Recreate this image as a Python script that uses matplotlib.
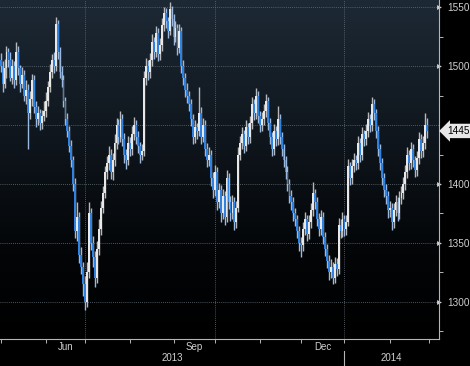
import numpy as np
import pandas as pd
import matplotlib
matplotlib.use('Agg')
import matplotlib.pyplot as plt
from matplotlib.colors import LinearSegmentedColormap
from matplotlib.transforms import blended_transform_factory

# daily candles, May 2013 - Feb 2014 (business days)
dates = pd.bdate_range('2013-05-01', '2014-02-28')

opens = [1505, 1500, 1485, 1498, 1512, 1505, 1490, 1500, 1488, 1512, 1498, 1485, 1492, 1475, 1480, 1460, 1472, 1488, 1465, 1455, 1460, 1452, 1458,
         1462, 1470, 1482, 1495, 1505, 1500, 1536, 1512, 1495, 1488, 1470, 1455, 1445, 1432, 1420, 1400, 1360, 1372, 1340, 1330,
         1315, 1300, 1325, 1375, 1350, 1338, 1320, 1345, 1362, 1380, 1392, 1410, 1418, 1425, 1410, 1420, 1435, 1450, 1440, 1455, 1438, 1425, 1420,
         1435, 1430, 1442, 1450, 1440, 1432, 1425, 1428, 1490, 1500, 1495, 1505, 1520, 1512, 1528, 1510, 1518, 1535, 1545, 1538, 1530, 1548,
         1540, 1525, 1532, 1515, 1530, 1500, 1490, 1480, 1475, 1468, 1455, 1440, 1448, 1445, 1460, 1440, 1450, 1430, 1420, 1425, 1405,
         1395, 1410, 1385, 1395, 1375, 1390, 1372, 1405, 1385, 1375, 1385, 1368, 1380, 1425, 1435, 1442, 1432, 1448, 1440, 1452, 1468, 1460, 1475,
         1458, 1450, 1455, 1462, 1470, 1452, 1440, 1430, 1445, 1438, 1455, 1440, 1430, 1420, 1410, 1400, 1390, 1385, 1375, 1370, 1360,
         1350, 1348, 1362, 1370, 1358, 1368, 1378, 1392, 1385, 1370, 1362, 1372, 1355, 1345, 1335, 1325, 1330, 1320, 1332, 1328, 1365, 1360,
         1370, 1362, 1368, 1415, 1405, 1415, 1420, 1418, 1435, 1425, 1442, 1438, 1445, 1455, 1450, 1468, 1460, 1445, 1430, 1418, 1405, 1395, 1390,
         1378, 1380, 1368, 1378, 1385, 1375, 1388, 1392, 1400, 1410, 1425, 1418, 1430, 1420, 1412, 1422, 1438, 1428, 1435, 1450]

closes = [1500, 1485, 1498, 1512, 1505, 1490, 1500, 1488, 1512, 1498, 1485, 1492, 1475, 1480, 1460, 1472, 1488, 1465, 1455, 1460, 1452, 1458, 1462,
          1470, 1482, 1495, 1505, 1500, 1536, 1512, 1495, 1488, 1470, 1455, 1445, 1432, 1420, 1400, 1360, 1372, 1340, 1330, 1315,
          1300, 1325, 1375, 1350, 1338, 1320, 1345, 1362, 1380, 1392, 1410, 1418, 1425, 1410, 1420, 1435, 1450, 1440, 1455, 1438, 1425, 1420, 1435,
          1430, 1442, 1450, 1440, 1432, 1425, 1428, 1490, 1500, 1495, 1505, 1520, 1512, 1528, 1510, 1518, 1535, 1545, 1538, 1530, 1548, 1540,
          1525, 1532, 1515, 1530, 1500, 1490, 1480, 1475, 1468, 1455, 1440, 1448, 1445, 1460, 1440, 1450, 1430, 1420, 1425, 1405, 1395,
          1410, 1385, 1395, 1375, 1390, 1372, 1405, 1385, 1375, 1385, 1368, 1380, 1425, 1435, 1442, 1432, 1448, 1440, 1452, 1468, 1460, 1475, 1458,
          1450, 1455, 1462, 1470, 1452, 1440, 1430, 1445, 1438, 1455, 1440, 1430, 1420, 1410, 1400, 1390, 1385, 1375, 1370, 1360, 1350,
          1348, 1362, 1370, 1358, 1368, 1378, 1392, 1385, 1370, 1362, 1372, 1355, 1345, 1335, 1325, 1330, 1320, 1332, 1328, 1365, 1360, 1370,
          1362, 1368, 1415, 1405, 1415, 1420, 1418, 1435, 1425, 1442, 1438, 1445, 1455, 1450, 1468, 1460, 1445, 1430, 1418, 1405, 1395, 1390, 1378,
          1380, 1368, 1378, 1385, 1375, 1388, 1392, 1400, 1410, 1425, 1418, 1430, 1420, 1412, 1422, 1438, 1428, 1435, 1450, 1445]

highs = [1511, 1504, 1506, 1517, 1515, 1512, 1506, 1504, 1520, 1517, 1501, 1499, 1497, 1488, 1485, 1479, 1493, 1492, 1470, 1466, 1464, 1463, 1470,
         1478, 1487, 1502, 1510, 1512, 1542, 1539, 1516, 1500, 1492, 1474, 1460, 1449, 1437, 1424, 1405, 1385, 1376, 1347, 1334,
         1322, 1334, 1385, 1380, 1356, 1343, 1352, 1370, 1386, 1398, 1415, 1424, 1432, 1430, 1426, 1442, 1456, 1455, 1462, 1459, 1443, 1430, 1441,
         1440, 1449, 1457, 1454, 1445, 1436, 1434, 1496, 1507, 1505, 1511, 1527, 1525, 1534, 1532, 1524, 1541, 1550, 1549, 1542, 1554, 1551,
         1544, 1538, 1536, 1536, 1533, 1505, 1494, 1486, 1479, 1472, 1459, 1454, 1452, 1482, 1465, 1456, 1454, 1435, 1431, 1429, 1410,
         1416, 1414, 1401, 1399, 1396, 1394, 1412, 1409, 1390, 1391, 1389, 1386, 1431, 1441, 1448, 1446, 1454, 1452, 1458, 1474, 1472, 1481, 1479,
         1462, 1461, 1468, 1476, 1474, 1456, 1444, 1451, 1449, 1466, 1459, 1444, 1434, 1424, 1415, 1404, 1395, 1389, 1380, 1374, 1364,
         1355, 1368, 1376, 1374, 1374, 1384, 1402, 1396, 1389, 1375, 1378, 1376, 1359, 1349, 1340, 1336, 1334, 1338, 1337, 1371, 1370, 1376,
         1374, 1374, 1421, 1419, 1421, 1426, 1425, 1441, 1439, 1448, 1446, 1451, 1461, 1459, 1474, 1472, 1464, 1449, 1434, 1422, 1409, 1400, 1394,
         1386, 1384, 1384, 1391, 1389, 1394, 1398, 1406, 1416, 1431, 1429, 1436, 1434, 1424, 1428, 1444, 1442, 1441, 1460, 1456]

lows = [1495, 1478, 1481, 1490, 1499, 1487, 1485, 1481, 1484, 1492, 1478, 1481, 1470, 1468, 1430, 1455, 1466, 1460, 1448, 1450, 1446, 1447, 1453,
        1457, 1466, 1478, 1490, 1494, 1496, 1506, 1490, 1482, 1465, 1450, 1440, 1427, 1414, 1394, 1354, 1352, 1333, 1324, 1305,
        1293, 1296, 1320, 1344, 1330, 1313, 1316, 1340, 1357, 1375, 1388, 1404, 1412, 1404, 1403, 1415, 1430, 1434, 1436, 1432, 1418, 1413, 1416,
        1424, 1425, 1437, 1434, 1426, 1418, 1420, 1424, 1484, 1488, 1490, 1500, 1506, 1508, 1504, 1505, 1513, 1530, 1532, 1524, 1526, 1534,
        1518, 1520, 1509, 1511, 1494, 1484, 1474, 1469, 1462, 1449, 1434, 1435, 1438, 1441, 1434, 1436, 1424, 1414, 1415, 1398, 1388,
        1390, 1378, 1380, 1368, 1370, 1365, 1368, 1379, 1369, 1370, 1361, 1363, 1376, 1420, 1430, 1426, 1428, 1434, 1435, 1447, 1454, 1455, 1452,
        1444, 1445, 1450, 1457, 1446, 1434, 1424, 1425, 1432, 1433, 1434, 1424, 1414, 1404, 1394, 1384, 1378, 1369, 1364, 1354, 1343,
        1338, 1343, 1357, 1352, 1353, 1363, 1373, 1379, 1364, 1356, 1357, 1349, 1339, 1329, 1319, 1320, 1315, 1316, 1322, 1324, 1354, 1355,
        1356, 1357, 1364, 1399, 1400, 1410, 1412, 1413, 1419, 1420, 1432, 1433, 1440, 1444, 1445, 1454, 1439, 1424, 1412, 1399, 1389, 1383, 1371,
        1372, 1361, 1363, 1373, 1369, 1370, 1383, 1387, 1395, 1405, 1412, 1413, 1414, 1406, 1407, 1417, 1422, 1423, 1430, 1439]

last_price = 1445
y_major = [1300, 1350, 1400, 1450, 1500, 1550]
y_minor = [1275, 1325, 1375, 1425, 1475, 1525]

o = np.array(opens)
c = np.array(closes)
h = np.array(highs)
l = np.array(lows)
idx = np.arange(len(dates))

# first trading day of each month
month_start = [i for i in idx if i == 0 or dates[i].month != dates[i - 1].month] + [len(dates)]
quarter_lines = [month_start[k] for k in range(len(month_start) - 1) if dates[month_start[k]].month in (1, 4, 7, 10)]

blue = '#2f82e0'
white = '#e8e8e8'
txt = '#cfcfcf'

fig = plt.figure(figsize=(4.7, 3.66), dpi=100, facecolor='black')
ax = fig.add_axes([0, 27 / 366, 439 / 470, 339 / 366])
ax.set_facecolor('black')

# dark blue-black gradient background
bg = LinearSegmentedColormap.from_list('bg', [(0, '#000000'), (0.25, '#030507'), (0.6, '#0f161d'), (1, '#1d2935')])
ax.imshow(np.linspace(0, 1, 256).reshape(-1, 1), cmap=bg, origin='lower', aspect='auto',
          extent=[0, 1, 0, 1], transform=ax.transAxes, zorder=0)

# grid
for v in y_major:
    ax.axhline(v, color='#66707a', lw=0.6, ls=(0, (1, 1.5)), zorder=1)
for q in quarter_lines:
    ax.axvline(q, color='#66707a', lw=0.6, ls=(0, (1, 1.5)), zorder=1)

# candles
up = c >= o
body_lo = np.minimum(o, c)
body_h = np.maximum(np.abs(c - o), 1.5)
ax.vlines(idx, l, h, colors=np.where(up, '#b8b8b8', '#9ab9e0'), lw=1.0, zorder=2)
ax.bar(idx, body_h, bottom=body_lo, width=0.95, color=np.where(up, white, blue), lw=0, zorder=3)

ax.set_xlim(-0.3, -0.3 + 439 / 1.965)
ax.set_ylim(1268.6, 1556)

# axes style
for s in ['top', 'left']:
    ax.spines[s].set_visible(False)
for s in ['right', 'bottom']:
    ax.spines[s].set_color('#b5b5b5')
    ax.spines[s].set_linewidth(0.8)

ax.yaxis.tick_right()
ax.set_yticks(y_major)
ax.set_yticklabels(['' if v == 1450 else str(v) for v in y_major])
ax.set_yticks(y_minor, minor=True)
ax.tick_params(axis='y', which='major', length=0, pad=6, labelsize=7.2, labelcolor=txt)
ax.tick_params(axis='y', which='minor', length=3, width=0.7, color='#b5b5b5')
for lab in ax.get_yticklabels():
    lab.set_family('Liberation Sans')

ax.set_xticks(month_start)
ax.set_xticklabels([])
ax.tick_params(axis='x', which='major', length=3, width=0.7, color='#b5b5b5')

ytr = blended_transform_factory(ax.transAxes, ax.transData)
for v in y_major:
    if v != 1450:
        ax.plot(1.0, v, marker='>', ms=3.5, color=txt, mec='none', transform=ytr, clip_on=False)

# last price tag
ax.text(1.0 + 8 / 439, last_price, str(last_price), transform=ytr, ha='left', va='center',
        fontsize=7.2, family='Liberation Sans', color='black',
        bbox=dict(boxstyle='larrow,pad=0.22', fc='#e8e8e8', ec='none'))

# month / year labels
xtr = blended_transform_factory(ax.transData, ax.transAxes)
for k in range(len(month_start) - 1):
    d = dates[month_start[k]]
    if d.month in (3, 6, 9, 12):
        mid = (month_start[k] + month_start[k + 1]) / 2
        ax.text(mid, -8 / 339, d.strftime('%b'), transform=xtr, ha='center', va='center',
                fontsize=7, family='Liberation Sans', color=txt)

jan = [m for m in month_start[:-1] if dates[m].month == 1][0]
ax.text(jan / 2, -19 / 339, '2013', transform=xtr, ha='center', va='center',
        fontsize=7, family='Liberation Sans', color=txt)
ax.text((jan + ax.get_xlim()[1]) / 2, -19 / 339, '2014', transform=xtr, ha='center', va='center',
        fontsize=7, family='Liberation Sans', color=txt)
ax.plot([jan, jan], [-12 / 339, -27 / 339], transform=xtr, color='#b5b5b5', lw=0.8, clip_on=False)

fig.savefig('out.png', dpi=100, facecolor='black')
